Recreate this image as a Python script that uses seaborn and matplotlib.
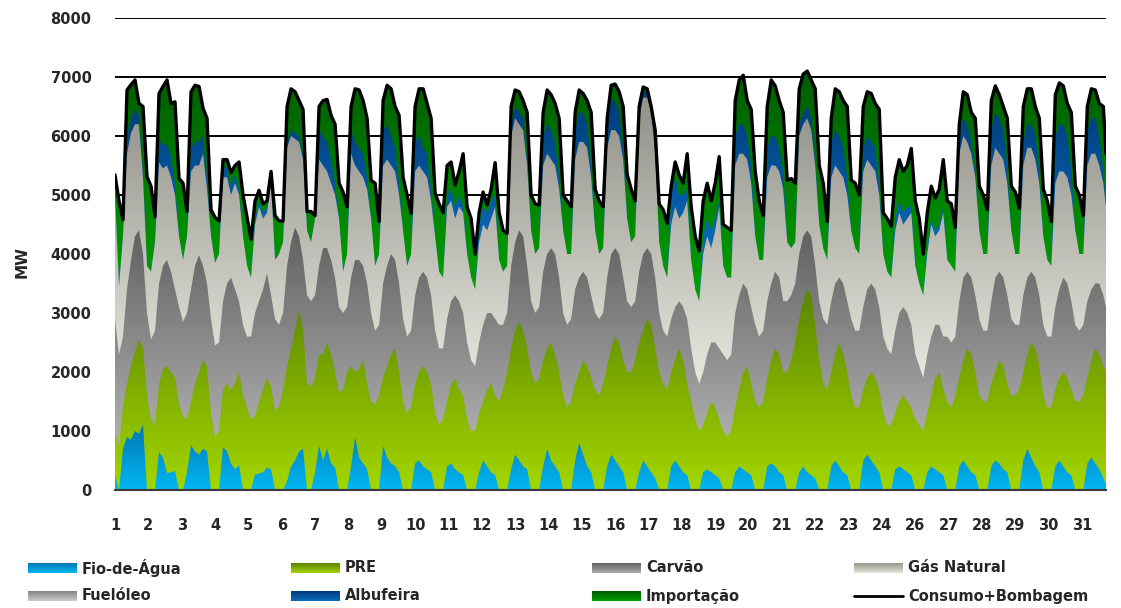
import numpy as np
import matplotlib
matplotlib.use("Agg")
import matplotlib.pyplot as plt
import seaborn as sns
from matplotlib.colors import LinearSegmentedColormap
from matplotlib.lines import Line2D

# leituras de 3 em 3 horas (0h, 3h, 6h, ..., 21h), uma linha por dia, em MW
# cada lista guarda o limite superior (acumulado) da respectiva faixa
fio_agua = [
    [250, 0, 700, 900, 850, 1000, 950, 1100], [0, 0, 0, 640, 550, 280, 300, 320],
    [0, 0, 300, 760, 650, 600, 700, 650], [0, 0, 0, 730, 650, 450, 350, 420],
    [0, 0, 0, 260, 280, 300, 380, 350], [0, 0, 0, 150, 400, 500, 650, 700],
    [0, 0, 300, 750, 500, 700, 450, 380], [0, 0, 0, 400, 900, 550, 450, 350],
    [0, 0, 0, 750, 550, 450, 400, 300], [0, 0, 0, 450, 500, 400, 350, 300],
    [0, 0, 0, 400, 450, 350, 300, 250], [0, 0, 0, 300, 500, 400, 300, 250],
    [0, 0, 0, 350, 600, 500, 400, 350], [0, 0, 0, 400, 700, 500, 400, 300],
    [0, 0, 0, 500, 800, 600, 400, 300], [0, 0, 0, 400, 600, 500, 400, 300],
    [0, 0, 0, 300, 500, 400, 300, 200], [0, 0, 0, 400, 500, 400, 300, 250],
    [0, 0, 0, 300, 350, 300, 250, 200], [0, 0, 0, 300, 400, 350, 300, 250],
    [0, 0, 0, 400, 450, 400, 300, 250], [0, 0, 0, 300, 400, 300, 250, 200],
    [0, 0, 0, 400, 500, 400, 300, 250], [0, 0, 0, 500, 600, 500, 400, 300],
    [0, 0, 0, 350, 400, 350, 300, 250], [0, 0, 0, 300, 400, 350, 300, 250],
    [0, 0, 0, 400, 500, 400, 300, 250], [0, 0, 0, 400, 500, 450, 350, 300],
    [0, 0, 0, 500, 700, 550, 400, 300], [0, 0, 0, 400, 500, 400, 300, 250],
    [0, 0, 0, 450, 550, 450, 350, 200],
]
topo_pre = [
    [1000, 750, 1400, 1800, 2100, 2350, 2550, 2400], [1600, 1200, 1100, 1800, 2050, 2100, 2000, 1900],
    [1450, 1250, 1200, 1500, 1800, 2000, 2200, 2100], [1300, 900, 1000, 1700, 1800, 1700, 1800, 2000],
    [1600, 1400, 1200, 1250, 1500, 1700, 1900, 1750], [1350, 1400, 1700, 2100, 2400, 2700, 3050, 2700],
    [1800, 1750, 1900, 2300, 2300, 2500, 2300, 2000], [1650, 1700, 2000, 2100, 2000, 2050, 2200, 1800],
    [1500, 1450, 1600, 1900, 2100, 2300, 2400, 2000], [1500, 1300, 1400, 1800, 2000, 2100, 2000, 1800],
    [1300, 1100, 1200, 1500, 1800, 1900, 1700, 1600], [1200, 1000, 1000, 1300, 1500, 1700, 1800, 1600],
    [1500, 1700, 2000, 2400, 2700, 2850, 2700, 2400], [2000, 1800, 1900, 2200, 2400, 2500, 2300, 2000],
    [1600, 1400, 1500, 1800, 2000, 2200, 2100, 1900], [1700, 1600, 1800, 2100, 2400, 2600, 2500, 2200],
    [2000, 2000, 2200, 2500, 2700, 2900, 2800, 2400], [2000, 1800, 1700, 2000, 2200, 2400, 2200, 1800],
    [1500, 1200, 1000, 1100, 1300, 1500, 1400, 1200], [1000, 900, 1000, 1400, 1700, 2000, 2100, 1800],
    [1500, 1400, 1500, 1900, 2200, 2400, 2300, 2000], [2000, 2200, 2500, 2900, 3200, 3400, 3300, 2800],
    [2200, 1800, 1700, 2000, 2300, 2500, 2300, 2000], [1600, 1400, 1400, 1700, 1900, 2000, 1900, 1700],
    [1300, 1100, 1100, 1300, 1500, 1600, 1500, 1400], [1200, 1100, 1000, 1300, 1600, 1900, 2000, 1700],
    [1500, 1400, 1600, 1900, 2200, 2400, 2300, 2000], [1600, 1500, 1500, 1800, 2000, 2200, 2100, 1800],
    [1600, 1600, 1700, 2000, 2300, 2500, 2400, 2100], [1600, 1400, 1400, 1700, 1900, 2000, 1900, 1700],
    [1500, 1500, 1600, 1900, 2200, 2400, 2300, 2100],
]
topo_carvao = [
    [2900, 2300, 2600, 3400, 3900, 4300, 4400, 4000], [3000, 2550, 2700, 3500, 3800, 3900, 3700, 3400],
    [3100, 2850, 3000, 3400, 3800, 3980, 3800, 3500], [2900, 2450, 2500, 3200, 3500, 3600, 3400, 3200],
    [2800, 2600, 2600, 3000, 3200, 3400, 3670, 3300], [2900, 2800, 3000, 3800, 4200, 4450, 4300, 3900],
    [3300, 3200, 3300, 3800, 4100, 4100, 3900, 3600], [3100, 3000, 3100, 3600, 3900, 3900, 3800, 3500],
    [3000, 2700, 2800, 3500, 3800, 4000, 3900, 3500], [2900, 2600, 2700, 3300, 3600, 3700, 3600, 3300],
    [2700, 2400, 2400, 2900, 3200, 3300, 3200, 3000], [2500, 2200, 2100, 2500, 2800, 3000, 3000, 2900],
    [2800, 2800, 3000, 3800, 4200, 4400, 4300, 3800], [3200, 3000, 3100, 3700, 4000, 4100, 4000, 3600],
    [3000, 2800, 2900, 3400, 3600, 3700, 3600, 3300], [3000, 2900, 3000, 3600, 4000, 4100, 4000, 3600],
    [3200, 3100, 3200, 3700, 4000, 4100, 4000, 3600], [3000, 2700, 2600, 2900, 3100, 3200, 3100, 2900],
    [2400, 2000, 1800, 2000, 2300, 2500, 2500, 2400], [2300, 2200, 2300, 3000, 3300, 3500, 3400, 3100],
    [2800, 2600, 2700, 3200, 3500, 3700, 3600, 3200], [3200, 3300, 3500, 4000, 4300, 4400, 4300, 3800],
    [3200, 2900, 2800, 3200, 3500, 3600, 3500, 3200], [2900, 2700, 2700, 3100, 3400, 3500, 3400, 3100],
    [2600, 2400, 2300, 2700, 3000, 3100, 3000, 2800], [2300, 2100, 1900, 2300, 2600, 2800, 2800, 2600],
    [2600, 2500, 2600, 3200, 3600, 3700, 3600, 3300], [2900, 2700, 2700, 3200, 3600, 3700, 3600, 3300],
    [2900, 2800, 2800, 3300, 3600, 3700, 3600, 3300], [2800, 2600, 2600, 3100, 3400, 3600, 3500, 3200],
    [2800, 2700, 2800, 3200, 3400, 3500, 3500, 3300],
]
topo_gas = [
    [5000, 3450, 4300, 5700, 6050, 6200, 6200, 5300], [3800, 3700, 4200, 5550, 5450, 5500, 5300, 5000],
    [4300, 3900, 4300, 5400, 5500, 5500, 5700, 5100], [4300, 3850, 4000, 5300, 5300, 5000, 5200, 5000],
    [4300, 3800, 3600, 4500, 4800, 4600, 4700, 5200], [3900, 4000, 4200, 5800, 6000, 5950, 5900, 5600],
    [4400, 4200, 4600, 5600, 5500, 5400, 5200, 5000], [4600, 3700, 4000, 5700, 5500, 5400, 5300, 5100],
    [4600, 3800, 4000, 5500, 5600, 5500, 5400, 5000], [4400, 3800, 4000, 5400, 5500, 5400, 5300, 4900],
    [4300, 3700, 3600, 4800, 4900, 4600, 4800, 4700], [4000, 3600, 3400, 4200, 4500, 4400, 4600, 4800],
    [3900, 3700, 3800, 6000, 6300, 6200, 6100, 5500], [4400, 4000, 4100, 5500, 5700, 5600, 5500, 5100],
    [4400, 4000, 4000, 5600, 5900, 5900, 5800, 5300], [4400, 4000, 4100, 5800, 6100, 6100, 6000, 5600],
    [4600, 4200, 4300, 6300, 6650, 6650, 6400, 5700], [4200, 3800, 3600, 4500, 4800, 4600, 4700, 4900],
    [3900, 3400, 3200, 4000, 4300, 4100, 4400, 4800], [3800, 3600, 3600, 5500, 5700, 5700, 5600, 5200],
    [4300, 3900, 3900, 5300, 5500, 5500, 5400, 5100], [4200, 4100, 4200, 6000, 6200, 6300, 6100, 5500],
    [4500, 4100, 3900, 5300, 5500, 5400, 5300, 5000], [4400, 4100, 4000, 5400, 5600, 5500, 5400, 5000],
    [4000, 3700, 3600, 4400, 4700, 4500, 4600, 4700], [3800, 3500, 3300, 4000, 4500, 4300, 4400, 4700],
    [3900, 3800, 3700, 5700, 6000, 5900, 5700, 5300], [4400, 4000, 4000, 5500, 5800, 5700, 5600, 5200],
    [4400, 4000, 4000, 5500, 5800, 5800, 5600, 5200], [4300, 3900, 3800, 5200, 5400, 5400, 5300, 5000],
    [4400, 4000, 4000, 5500, 5700, 5700, 5500, 5200],
]
topo_albufeira = [
    [5000, 3450, 4300, 6000, 6300, 6450, 6350, 5400], [3800, 3700, 4200, 5950, 5850, 5850, 5650, 5200],
    [4300, 3900, 4300, 5800, 5900, 5900, 6000, 5300], [4300, 3850, 4000, 5500, 5450, 5150, 5350, 5100],
    [4300, 3800, 3600, 4600, 4900, 4700, 4800, 5300], [3900, 4000, 4200, 5900, 6100, 6050, 6000, 5700],
    [4400, 4200, 4600, 6100, 6000, 5900, 5600, 5200], [4600, 3700, 4000, 6100, 5900, 5800, 5700, 5300],
    [4600, 3800, 4000, 6100, 6200, 6000, 5800, 5200], [4400, 3800, 4000, 5900, 6000, 5800, 5700, 5100],
    [4300, 3700, 3600, 5000, 5100, 4800, 5000, 4800], [4000, 3600, 3400, 4500, 4800, 4700, 4900, 5000],
    [3900, 3700, 3800, 6200, 6500, 6400, 6300, 5600], [4400, 4000, 4100, 6000, 6200, 6100, 5900, 5300],
    [4400, 4000, 4000, 6100, 6400, 6400, 6200, 5500], [4400, 4000, 4100, 6100, 6600, 6600, 6400, 5800],
    [4600, 4200, 4300, 6400, 6750, 6750, 6450, 5800], [4200, 3800, 3600, 5000, 5300, 5000, 5000, 5100],
    [3900, 3400, 3200, 4300, 4600, 4400, 4600, 4900], [3800, 3600, 3600, 6000, 6200, 6200, 6000, 5500],
    [4300, 3900, 3900, 5800, 6000, 6000, 5800, 5400], [4200, 4100, 4200, 6200, 6400, 6500, 6300, 5600],
    [4500, 4100, 3900, 5900, 6100, 6000, 5800, 5300], [4400, 4100, 4000, 5800, 6000, 5900, 5800, 5200],
    [4000, 3700, 3600, 4600, 4900, 4700, 4800, 4800], [3800, 3500, 3300, 4100, 4600, 4400, 4500, 4800],
    [3900, 3800, 3700, 6000, 6300, 6200, 5900, 5400], [4400, 4000, 4000, 6100, 6400, 6300, 6100, 5500],
    [4400, 4000, 4000, 5900, 6200, 6200, 6000, 5400], [4300, 3900, 3800, 6000, 6200, 6200, 6000, 5400],
    [4400, 4000, 4000, 6100, 6300, 6300, 6000, 5400],
]
consumo = [
    [5340, 4900, 4580, 6780, 6870, 6950, 6550, 6500], [5310, 5150, 4630, 6720, 6840, 6950, 6550, 6580],
    [5280, 5200, 4720, 6750, 6860, 6840, 6470, 6300], [4750, 4620, 4560, 5600, 5600, 5380, 5500, 5560],
    [5000, 4620, 4250, 4900, 5080, 4850, 4900, 5400], [4650, 4560, 4560, 6500, 6800, 6750, 6600, 6450],
    [4720, 4720, 4650, 6500, 6600, 6620, 6350, 6200], [5200, 5050, 4800, 6500, 6800, 6780, 6600, 6300],
    [5250, 5200, 4550, 6600, 6860, 6800, 6500, 6350], [5300, 5000, 4690, 6500, 6800, 6800, 6550, 6300],
    [5030, 4850, 4700, 5500, 5560, 5170, 5400, 5700], [4800, 4600, 4000, 4700, 5050, 4830, 5100, 5550],
    [4700, 4400, 4350, 6500, 6780, 6750, 6600, 6400], [5000, 4850, 4830, 6400, 6780, 6700, 6550, 6300],
    [5000, 4900, 4800, 6400, 6780, 6720, 6600, 6400], [5100, 4900, 4800, 6300, 6860, 6880, 6750, 6500],
    [5350, 5100, 4900, 6500, 6830, 6800, 6500, 6100], [4850, 4750, 4520, 5150, 5560, 5340, 5200, 5700],
    [4800, 4300, 4050, 4900, 5200, 4900, 5200, 5650], [4500, 4450, 4400, 6600, 6950, 7030, 6600, 6450],
    [5400, 4900, 4650, 6500, 6950, 6850, 6600, 6400], [5250, 5280, 5200, 6800, 7050, 7100, 6950, 6800],
    [5500, 5200, 4550, 6300, 6800, 6750, 6600, 6500], [5250, 5200, 5000, 6500, 6750, 6720, 6550, 6450],
    [4700, 4600, 4470, 5300, 5600, 5400, 5500, 5790], [4900, 4600, 4000, 4700, 5150, 4950, 5100, 5600],
    [4900, 4850, 4450, 6200, 6750, 6700, 6400, 6300], [5150, 5000, 4750, 6600, 6850, 6700, 6500, 6300],
    [5150, 5050, 4770, 6500, 6800, 6800, 6500, 6300], [5100, 4900, 4550, 6700, 6900, 6850, 6550, 6400],
    [5150, 5000, 4650, 6500, 6800, 6780, 6550, 6500],
]
# leitura na ultima hora do mes (bordo direito)
fim = {"fio": 100, "pre": 2000, "carvao": 3100, "gas": 4800, "albufeira": 4900, "consumo": 5700}

dias = [str(d) for d in range(1, 25)] + [str(d) for d in range(26, 32)]
legenda = ["Fio-de-Água", "PRE", "Carvão", "Gás Natural",
           "Fuelóleo", "Albufeira", "Importação", "Consumo+Bombagem"]

# cores (topo, base) de cada faixa com degradê vertical
cores = {
    "Importação": ("#005c00", "#00a000", 3400, 7100),
    "Albufeira": ("#003c7a", "#0a6cbc", 4000, 6600),
    "Gás Natural": ("#97968e", "#e6e5dc", 2000, 6300),
    "Fuelóleo": ("#858585", "#cacaca", 0, 1),
    "Carvão": ("#616161", "#ababab", 1000, 4400),
    "PRE": ("#5a8500", "#a4d600", 0, 3400),
    "Fio-de-Água": ("#0078b4", "#00b6f2", 0, 1100),
}

horas = np.append(np.arange(0, 744, 3), 743)


def serie(dados, chave):
    return np.append(np.ravel(dados), fim[chave])


sns.set_style("white")
plt.rcParams["font.family"] = ["DejaVu Sans"]
plt.rcParams["font.weight"] = "bold"

W, H = 1121, 608
fig = plt.figure(figsize=(W / 100, H / 100), dpi=100)
ax = fig.add_axes([115 / W, 1 - 490 / H, (1106 - 115) / W, (490 - 18) / H])


def faixa(ax, x, topo, nome, z):
    c_topo, c_base, y0, y1 = cores[nome]
    cmap = LinearSegmentedColormap.from_list(nome, [c_base, c_topo])
    poly = ax.fill_between(x, 0, topo, facecolor="none", edgecolor="none")
    yy = np.linspace(0, 8000, 400).reshape(-1, 1)
    grad = np.clip((yy - y0) / (y1 - y0), 0, 1)
    im = ax.imshow(grad, cmap=cmap, vmin=0, vmax=1, aspect="auto", origin="lower",
                   extent=[x[0], x[-1], 0, 8000], zorder=z, interpolation="bilinear")
    im.set_clip_path(poly.get_paths()[0], transform=ax.transData)


faixa(ax, horas, serie(consumo, "consumo"), "Importação", 1)
faixa(ax, horas, serie(topo_albufeira, "albufeira"), "Albufeira", 2)
faixa(ax, horas, serie(topo_gas, "gas"), "Gás Natural", 3)
faixa(ax, horas, serie(topo_carvao, "carvao"), "Carvão", 4)
faixa(ax, horas, serie(topo_pre, "pre"), "PRE", 5)
faixa(ax, horas, serie(fio_agua, "fio"), "Fio-de-Água", 6)

sns.lineplot(x=horas, y=serie(consumo, "consumo"), color="black", lw=2.4, ax=ax, zorder=8)

ax.set_xlim(0, 743)
ax.set_ylim(0, 8000)
ax.set_yticks(range(0, 8001, 1000))
ax.set_xticks(np.arange(30) * 25)
ax.set_xticklabels(dias)
ax.tick_params(axis="both", length=0, labelsize=10.5)
ax.tick_params(axis="y", pad=17)
ax.tick_params(axis="x", pad=20)
ax.set_axisbelow(True)
ax.yaxis.grid(True, color="black", lw=1.4)
ax.xaxis.grid(False)
for s in ["left", "right", "top"]:
    ax.spines[s].set_visible(False)
ax.spines["bottom"].set_color("#3a3a3a")
ax.spines["bottom"].set_linewidth(1.5)
ax.spines["bottom"].set_zorder(9)
ax.set_xlabel("")
ax.set_ylabel("")
fig.text(22 / W, 1 - 262 / H, "MW", rotation=90, ha="center", va="center",
         fontsize=11, fontweight="bold")

# legenda em duas linhas de quatro
col_x = [28, 291, 592, 854]
lin_y = [568, 596]
for i, nome in enumerate(legenda):
    cx = col_x[i % 4]
    cy = lin_y[i // 4]
    if nome == "Consumo+Bombagem":
        fig.add_artist(Line2D([cx / W, (cx + 49) / W], [1 - cy / H, 1 - cy / H],
                              color="black", lw=2))
    else:
        c_topo, c_base = cores[nome][0], cores[nome][1]
        hax = fig.add_axes([cx / W, 1 - (cy + 5) / H, 49 / W, 10 / H])
        hax.imshow(np.linspace(0, 1, 50).reshape(-1, 1), aspect="auto", origin="lower",
                   cmap=LinearSegmentedColormap.from_list("h" + nome, [c_base, c_topo]))
        hax.axis("off")
    fig.text((cx + 54) / W, 1 - cy / H, nome, ha="left", va="center",
             fontsize=10.5, fontweight="bold")

fig.savefig("out.png", dpi=100)
